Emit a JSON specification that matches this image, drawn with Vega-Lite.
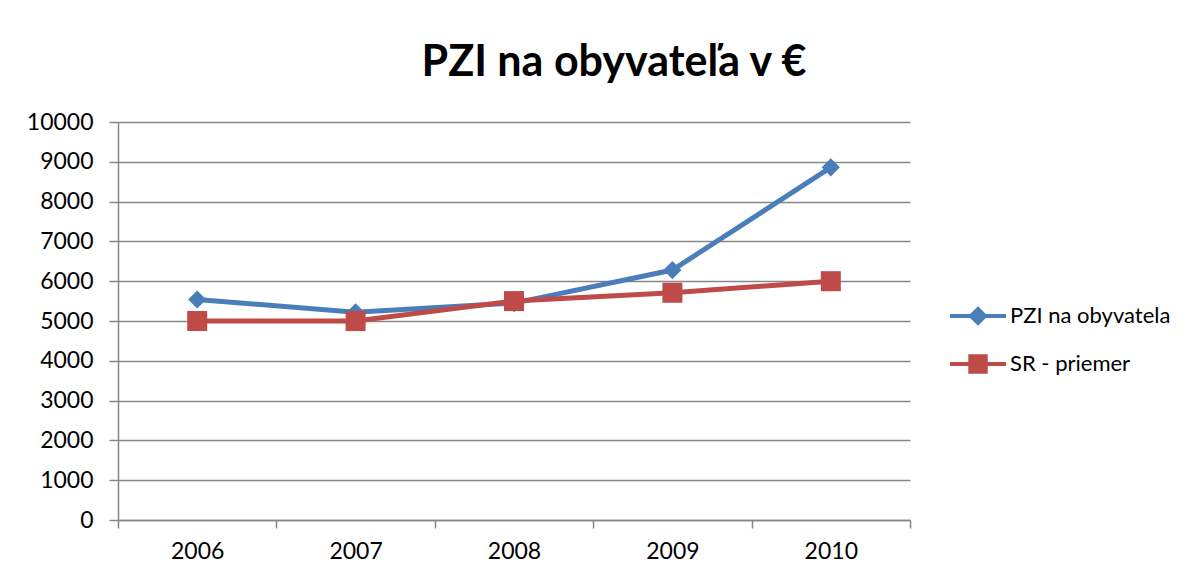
{
  "$schema": "https://vega.github.io/schema/vega-lite/v6.json",
  "width": 792,
  "height": 398,
  "autosize": "none",
  "padding": {"left": 118, "top": 122, "right": 293, "bottom": 58},
  "background": "white",
  "config": {"view": {"stroke": null}, "font": "Lato"},
  "title": {
    "text": "PZI na obyvateľa v €",
    "fontSize": 43,
    "font": "Lato",
    "fontWeight": "bold",
    "color": "black",
    "anchor": "middle",
    "frame": "group",
    "dx": 100,
    "offset": 26
  },
  "data": {
    "values": [
      {"year": "2006", "series": "PZI na obyvatela", "value": 5540},
      {"year": "2007", "series": "PZI na obyvatela", "value": 5220},
      {"year": "2008", "series": "PZI na obyvatela", "value": 5450},
      {"year": "2009", "series": "PZI na obyvatela", "value": 6280},
      {"year": "2010", "series": "PZI na obyvatela", "value": 8860},
      {"year": "2006", "series": "SR - priemer", "value": 5000},
      {"year": "2007", "series": "SR - priemer", "value": 5000},
      {"year": "2008", "series": "SR - priemer", "value": 5500},
      {"year": "2009", "series": "SR - priemer", "value": 5710},
      {"year": "2010", "series": "SR - priemer", "value": 6000}
    ]
  },
  "encoding": {
    "x": {
      "field": "year",
      "type": "ordinal",
      "scale": {"type": "band", "paddingInner": 0, "paddingOuter": 0},
      "axis": {
        "title": null,
        "labelAngle": 0,
        "labelFont": "Lato",
        "labelFontSize": 23,
        "labelColor": "black",
        "labelPadding": 12,
        "tickBand": "extent",
        "tickSize": 8,
        "tickColor": "#868686",
        "tickWidth": 1.5,
        "domainColor": "#868686",
        "domainWidth": 1.5,
        "grid": false
      }
    },
    "y": {
      "field": "value",
      "type": "quantitative",
      "scale": {"domain": [0, 10000], "nice": false},
      "axis": {
        "title": null,
        "values": [0, 1000, 2000, 3000, 4000, 5000, 6000, 7000, 8000, 9000, 10000],
        "format": "d",
        "labelFont": "Lato",
        "labelFontSize": 23,
        "labelColor": "black",
        "labelPadding": 16,
        "tickSize": 9,
        "tickColor": "#868686",
        "tickWidth": 1.5,
        "domainColor": "#868686",
        "domainWidth": 1.5,
        "grid": true,
        "gridColor": "#868686",
        "gridWidth": 1.5
      }
    },
    "color": {
      "field": "series",
      "type": "nominal",
      "scale": {"domain": ["PZI na obyvatela", "SR - priemer"], "range": ["#4a7ebb", "#be4b48"]},
      "legend": {
        "title": null,
        "orient": "none",
        "legendX": 844,
        "legendY": 178,
        "labelFont": "Lato",
        "labelFontSize": 22,
        "labelColor": "black",
        "labelOffset": 16,
        "labelLimit": 300,
        "symbolSize": 784,
        "rowPadding": 17,
        "symbolOffset": 0,
        "encode": {
          "symbols": {
            "update": {
              "shape": {"signal": "datum.value === 'PZI na obyvatela' ? 'M-2,0L2,0M-0.5,0L0,-0.5L0.5,0L0,0.5Z' : 'M-2,0L2,0M-0.55,-0.55L0.55,-0.55L0.55,0.55L-0.55,0.55Z'"},
              "fill": {"signal": "datum.value === 'PZI na obyvatela' ? '#4a7ebb' : '#be4b48'"},
              "stroke": {"signal": "datum.value === 'PZI na obyvatela' ? '#4a7ebb' : '#be4b48'"},
              "strokeWidth": {"value": 4},
              "fillOpacity": {"value": 1},
              "opacity": {"value": 1}
            }
          }
        }
      }
    }
  },
  "layer": [
    {
      "transform": [{"filter": "datum.series === 'PZI na obyvatela'"}],
      "mark": {"type": "line", "strokeWidth": 5}
    },
    {
      "transform": [{"filter": "datum.series === 'PZI na obyvatela'"}],
      "mark": {"type": "point", "shape": "diamond", "filled": true, "size": 330, "opacity": 1}
    },
    {
      "transform": [{"filter": "datum.series === 'SR - priemer'"}],
      "mark": {"type": "line", "strokeWidth": 5}
    },
    {
      "transform": [{"filter": "datum.series === 'SR - priemer'"}],
      "mark": {"type": "point", "shape": "square", "filled": true, "size": 400, "opacity": 1}
    }
  ]
}
